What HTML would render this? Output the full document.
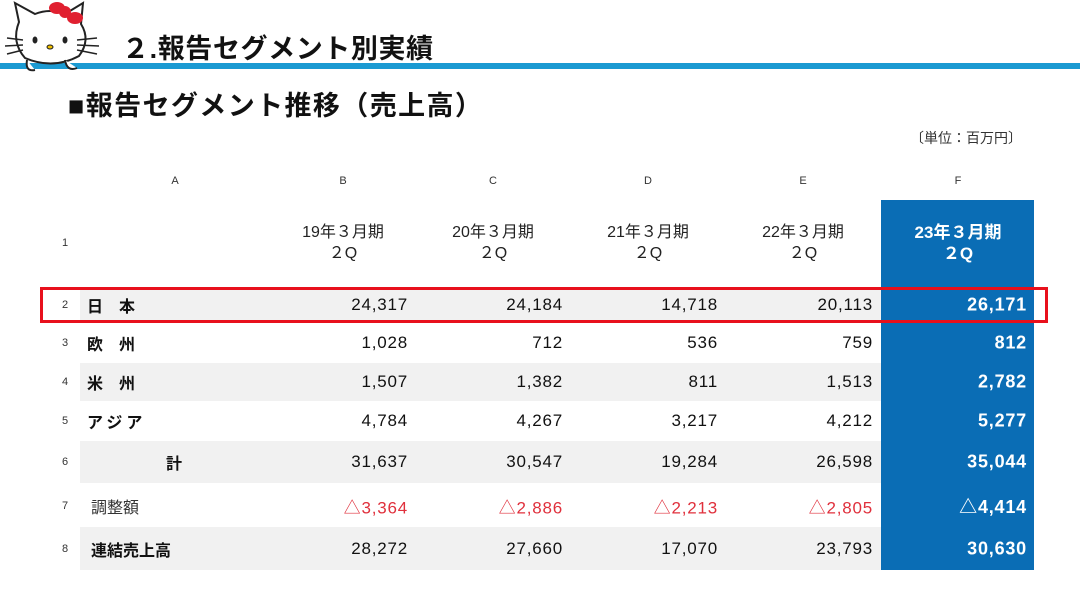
<!DOCTYPE html>
<html><head><meta charset="utf-8"><style>
body{margin:0;width:1080px;height:606px;background:#fff;position:relative;overflow:hidden;font-family:"Liberation Sans","Noto Sans CJK JP",sans-serif;color:#111}
.a{position:absolute;white-space:nowrap}
.g{position:absolute;left:80px;width:801px;background:#f1f1f1}
.n{position:absolute;font-size:17px;letter-spacing:0.8px;text-align:right;width:140px;transform:translateY(-50%)}
.l{position:absolute;font-size:11px;transform:translate(-50%,-50%);color:#333}
.h{position:absolute;font-size:16px;text-align:center;line-height:21px;transform:translate(-50%,-50%);color:#222}
.r{position:absolute;font-size:16px;font-weight:bold;transform:translateY(-50%)}
.red{color:#e0303c}
.w{color:#fff;font-weight:bold;font-size:18px}
</style></head><body>
<div class="a" style="left:0;top:63px;width:1080px;height:6px;background:#1b9ad2"></div>
<svg class="a" style="left:5px;top:0" width="95" height="75" viewBox="0 0 95 75">
<path d="M14 22 L10 3 L30 14 Q45 8 60 14 L78 3 L76 24 Q86 40 74 56 Q48 70 20 58 Q6 42 14 22Z" fill="#fff" stroke="#222" stroke-width="2"/>
<path d="M22 60 Q20 72 30 70 M60 60 Q62 72 72 68" fill="#fff" stroke="#222" stroke-width="2"/>
<ellipse cx="30" cy="40" rx="2.5" ry="3.5" fill="#222"/><ellipse cx="60" cy="40" rx="2.5" ry="3.5" fill="#222"/>
<ellipse cx="45" cy="47" rx="3" ry="2" fill="#f0c000" stroke="#222"/>
<path d="M2 38 L18 40 M0 46 L18 45 M2 54 L18 50 M72 40 L92 38 M72 45 L94 46 M72 50 L92 54" stroke="#222" stroke-width="1.5"/>
<circle cx="60" cy="12" r="6" fill="#e02030"/><ellipse cx="52" cy="8" rx="8" ry="6" fill="#e02030"/><ellipse cx="70" cy="18" rx="8" ry="6" fill="#e02030"/>
</svg>
<div class="a" style="left:122px;top:27px;font-size:27px;font-weight:bold;letter-spacing:0.6px">２.報告セグメント別実績</div>
<div class="a" style="left:68px;top:84px;font-size:27px;font-weight:bold;letter-spacing:1.4px">■報告セグメント推移（売上高）</div>
<div class="a" style="left:910px;top:128px;font-size:14px;color:#333">〔単位：百万円〕</div>

<div class="g" style="top:289px;height:31px"></div>
<div class="g" style="top:363px;height:38px"></div>
<div class="g" style="top:441px;height:42px"></div>
<div class="g" style="top:527px;height:43px"></div>
<div class="a" style="left:881px;top:200px;width:153px;height:370px;background:#0a6db5"></div>
<div class="a" style="left:40px;top:287px;width:1002px;height:30px;border:3px solid #e8101c"></div>

<div class="l" style="left:175px;top:181px">A</div><div class="l" style="left:343px;top:181px">B</div><div class="l" style="left:493px;top:181px">C</div><div class="l" style="left:648px;top:181px">D</div><div class="l" style="left:803px;top:181px">E</div><div class="l" style="left:958px;top:181px">F</div>
<div class="l" style="left:65px;top:243px">1</div><div class="l" style="left:65px;top:305px">2</div><div class="l" style="left:65px;top:343px">3</div><div class="l" style="left:65px;top:382px">4</div><div class="l" style="left:65px;top:421px">5</div><div class="l" style="left:65px;top:462px">6</div><div class="l" style="left:65px;top:506px">7</div><div class="l" style="left:65px;top:549px">8</div>

<div class="h" style="left:343px;top:243px">19年３月期<br>２Q</div>
<div class="h" style="left:493px;top:243px">20年３月期<br>２Q</div>
<div class="h" style="left:648px;top:243px">21年３月期<br>２Q</div>
<div class="h" style="left:803px;top:243px">22年３月期<br>２Q</div>
<div class="h" style="left:958px;top:243px;color:#fff;font-weight:bold;font-size:17px">23年３月期<br>２Q</div>

<div class="r" style="left:87px;top:305px">日　本</div>
<div class="r" style="left:87px;top:343px">欧　州</div>
<div class="r" style="left:87px;top:382px">米　州</div>
<div class="r" style="left:87px;top:421px;letter-spacing:4px">アジア</div>
<div class="r" style="left:166px;top:462px">計</div>
<div class="r" style="left:91px;top:506px;font-weight:normal;color:#333">調整額</div>
<div class="r" style="left:91px;top:549px">連結売上高</div>

<div class="n" style="left:268px;top:305px">24,317</div><div class="n" style="left:423px;top:305px">24,184</div><div class="n" style="left:578px;top:305px">14,718</div><div class="n" style="left:733px;top:305px">20,113</div><div class="n w" style="left:887px;top:305px">26,171</div>
<div class="n" style="left:268px;top:343px">1,028</div><div class="n" style="left:423px;top:343px">712</div><div class="n" style="left:578px;top:343px">536</div><div class="n" style="left:733px;top:343px">759</div><div class="n w" style="left:887px;top:343px">812</div>
<div class="n" style="left:268px;top:382px">1,507</div><div class="n" style="left:423px;top:382px">1,382</div><div class="n" style="left:578px;top:382px">811</div><div class="n" style="left:733px;top:382px">1,513</div><div class="n w" style="left:887px;top:382px">2,782</div>
<div class="n" style="left:268px;top:421px">4,784</div><div class="n" style="left:423px;top:421px">4,267</div><div class="n" style="left:578px;top:421px">3,217</div><div class="n" style="left:733px;top:421px">4,212</div><div class="n w" style="left:887px;top:421px">5,277</div>
<div class="n" style="left:268px;top:462px">31,637</div><div class="n" style="left:423px;top:462px">30,547</div><div class="n" style="left:578px;top:462px">19,284</div><div class="n" style="left:733px;top:462px">26,598</div><div class="n w" style="left:887px;top:462px">35,044</div>
<div class="n red" style="left:268px;top:506px">△3,364</div><div class="n red" style="left:423px;top:506px">△2,886</div><div class="n red" style="left:578px;top:506px">△2,213</div><div class="n red" style="left:733px;top:506px">△2,805</div><div class="n w" style="left:887px;top:506px">△4,414</div>
<div class="n" style="left:268px;top:549px">28,272</div><div class="n" style="left:423px;top:549px">27,660</div><div class="n" style="left:578px;top:549px">17,070</div><div class="n" style="left:733px;top:549px">23,793</div><div class="n w" style="left:887px;top:549px">30,630</div>
</body></html>
